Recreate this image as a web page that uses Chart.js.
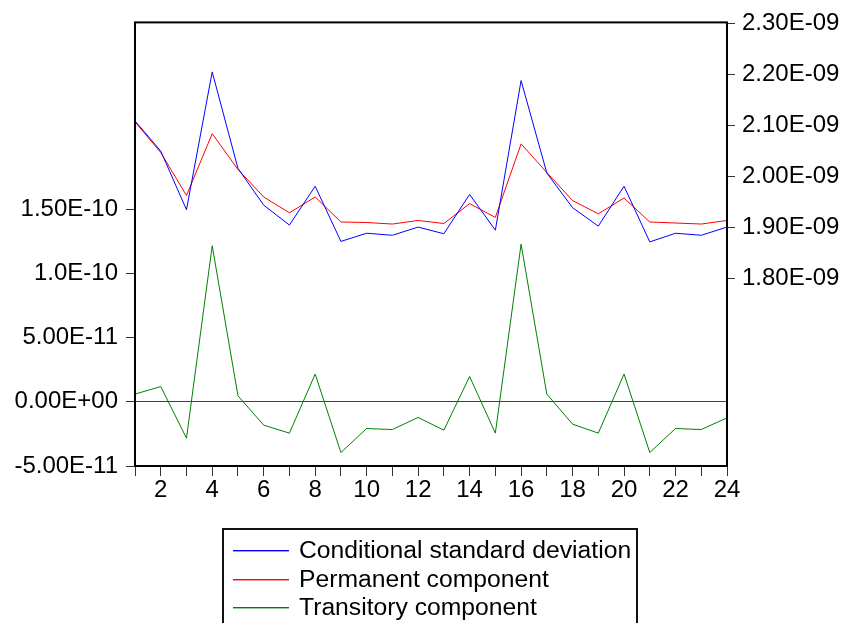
<!DOCTYPE html>
<html>
<head>
<meta charset="utf-8">
<script src="https://cdn.jsdelivr.net/npm/chart.js@4"></script>
<style>
  html, body { margin: 0; padding: 0; background: #fff; }
  #c { display: block; }
</style>
</head>
<body>
<canvas id="c" width="845" height="623"></canvas>
<script>
// ---- data ----
const xLabels = ['1','2','3','4','5','6','7','8','9','10','11','12','13','14','15','16','17','18','19','20','21','22','23','24'];

const condSD = [2.109e-9, 2.050e-9, 1.935e-9, 2.205e-9, 2.016e-9, 1.944e-9, 1.905e-9, 1.981e-9,
                1.873e-9, 1.889e-9, 1.885e-9, 1.901e-9, 1.888e-9, 1.965e-9, 1.895e-9, 2.188e-9,
                2.007e-9, 1.939e-9, 1.903e-9, 1.981e-9, 1.872e-9, 1.889e-9, 1.885e-9, 1.901e-9];

const permanent = [2.107e-9, 2.047e-9, 1.963e-9, 2.084e-9, 2.014e-9, 1.960e-9, 1.929e-9, 1.960e-9,
                   1.911e-9, 1.910e-9, 1.907e-9, 1.914e-9, 1.908e-9, 1.947e-9, 1.920e-9, 2.064e-9,
                   2.008e-9, 1.953e-9, 1.927e-9, 1.958e-9, 1.911e-9, 1.909e-9, 1.907e-9, 1.914e-9];

const transitory = [0.60e-11, 1.19e-11, -2.83e-11, 12.15e-11, 0.47e-11, -1.82e-11, -2.44e-11, 2.16e-11,
                    -3.95e-11, -2.08e-11, -2.16e-11, -1.22e-11, -2.21e-11, 1.97e-11, -2.44e-11, 12.28e-11,
                    0.60e-11, -1.74e-11, -2.44e-11, 2.16e-11, -3.95e-11, -2.08e-11, -2.16e-11, -1.25e-11];

const seriesNames = ['Conditional standard deviation', 'Permanent component', 'Transitory component'];
const seriesColors = ['#0000FF', '#FF0000', '#008000'];

const leftTickValues = [-5e-11, 0, 5e-11, 1e-10, 1.5e-10];
const leftTickLabels = ['-5.00E-11', '0.00E+00', '5.00E-11', '1.0E-10', '1.50E-10'];
const rightTickValues = [1.8e-9, 1.9e-9, 2.0e-9, 2.1e-9, 2.2e-9, 2.3e-9];
const rightTickLabels = ['1.80E-09', '1.90E-09', '2.00E-09', '2.10E-09', '2.20E-09', '2.30E-09'];

// ---- chart ----
const FONT = '"Liberation Sans", Arial, sans-serif';
Chart.defaults.font.family = FONT;
Chart.defaults.font.size = 24;
Chart.defaults.color = '#000';

const framePlugin = {
  id: 'frame',
  afterDatasetsDraw(chart) {
    const a = chart.chartArea, ctx = chart.ctx;
    ctx.save();
    ctx.strokeStyle = '#000';
    ctx.lineWidth = 2;
    ctx.strokeRect(a.left, a.top, a.right - a.left, a.bottom - a.top);
    ctx.restore();
  }
};

// boxed legend below the plot, one series per row
const boxLegendPlugin = {
  id: 'boxLegend',
  afterDraw(chart) {
    const ctx = chart.ctx;
    ctx.save();
    ctx.strokeStyle = '#111';
    ctx.lineWidth = 2;
    ctx.strokeRect(223, 529, 414, 130);
    const rowCenters = [550, 579, 607];
    ctx.font = '24.7px ' + FONT;
    ctx.textBaseline = 'middle';
    ctx.textAlign = 'left';
    seriesNames.forEach((name, i) => {
      ctx.fillStyle = seriesColors[i];
      ctx.fillRect(233, rowCenters[i], 56, 1.4);
      ctx.fillStyle = '#000';
      ctx.fillText(name, 299, rowCenters[i] + 1);
    });
    ctx.restore();
  }
};

const chart = new Chart(document.getElementById('c'), {
  type: 'line',
  data: {
    labels: xLabels,
    datasets: [
      { label: seriesNames[0], data: condSD, yAxisID: 'yR', borderColor: seriesColors[0], borderWidth: 1, pointRadius: 0, tension: 0 },
      { label: seriesNames[1], data: permanent, yAxisID: 'yR', borderColor: seriesColors[1], borderWidth: 1, pointRadius: 0, tension: 0 },
      { label: seriesNames[2], data: transitory, yAxisID: 'yL', borderColor: seriesColors[2], borderWidth: 1, pointRadius: 0, tension: 0 }
    ]
  },
  options: {
    responsive: false,
    devicePixelRatio: 1,
    animation: false,
    layout: { padding: { top: 22, left: 0, right: 0, bottom: 0 } },
    plugins: { legend: { display: false }, tooltip: { enabled: false } },
    scales: {
      x: {
        type: 'category',
        offset: false,
        border: { display: false },
        grid: { drawOnChartArea: false, drawTicks: true, tickLength: 10, tickColor: '#333', lineWidth: 1, offset: false },
        ticks: {
          autoSkip: false, maxRotation: 0, minRotation: 0, padding: 0,
          callback: function (v, i) { const l = xLabels[i]; return Number(l) % 2 === 0 ? l : ''; }
        },
        afterFit(s) { s.height = 157; }
      },
      yL: {
        type: 'linear', position: 'left',
        min: -5e-11, max: 2.955e-10,
        border: { display: false },
        grid: {
          drawOnChartArea: true, drawTicks: true, tickLength: 9, tickColor: '#333', lineWidth: 1,
          color: (c) => (c.tick && c.tick.value === 0 ? '#404040' : 'rgba(0,0,0,0)')
        },
        afterBuildTicks(s) { s.ticks = leftTickValues.map(v => ({ value: v })); },
        ticks: { padding: 8, callback: (v, i) => leftTickLabels[i] },
        afterFit(s) { s.width = 135; }
      },
      yR: {
        type: 'linear', position: 'right',
        min: 1.433e-9, max: 2.302e-9,
        border: { display: false },
        grid: { drawOnChartArea: false, drawTicks: true, tickLength: 8, tickColor: '#333', lineWidth: 1 },
        afterBuildTicks(s) { s.ticks = rightTickValues.map(v => ({ value: v })); },
        ticks: { padding: 7, callback: (v, i) => rightTickLabels[i] },
        afterFit(s) { s.width = 118; }
      }
    }
  },
  plugins: [framePlugin, boxLegendPlugin]
});
</script>
</body>
</html>
